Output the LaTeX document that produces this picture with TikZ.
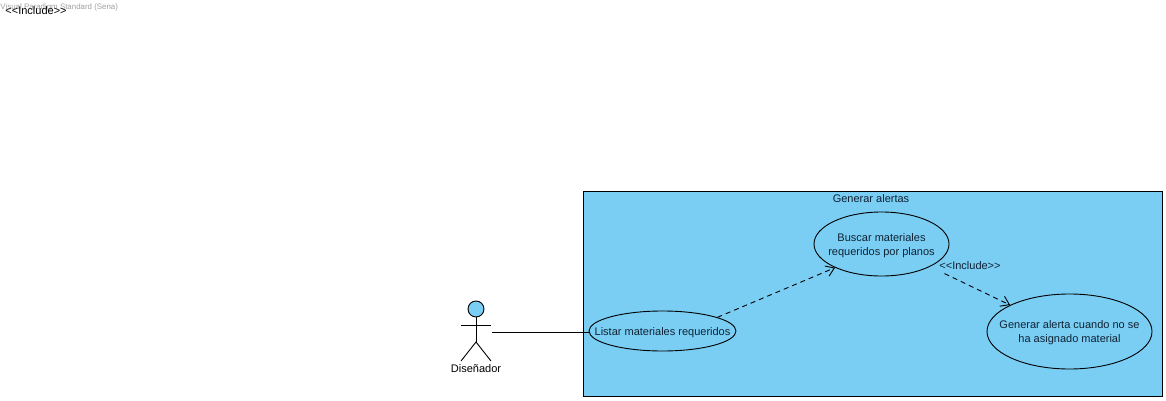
\documentclass[tikz,border=0pt]{standalone}
\usepackage{fontspec}
\setmainfont{Liberation Sans}
\usepackage{xcolor}
\usetikzlibrary{shapes.geometric,arrows.meta}
\definecolor{ucfill}{HTML}{7ACEF4}
\definecolor{uctext}{HTML}{0F2233}
\newcommand{\uclabel}[1]{\makebox[0pt]{\raisebox{-4pt}[0pt][0pt]{#1}}}
\tikzset{
  usecase/.style={draw, ellipse, inner sep=0pt, text=uctext, font=\fontsize{11}{14}\selectfont},
  inctext/.style={text=uctext, inner sep=0pt, font=\fontsize{11}{13}\selectfont},
  includeline/.style={draw, dashed, dash pattern=on 5pt off 4pt, -{Straight Barb[length=8pt,width=11pt]}},
}

\begin{document}
\begin{tikzpicture}[x=1pt, y=-1pt, line width=0.9pt]
  \useasboundingbox (0,0) rectangle (1166,401);
  \node[text=gray!75, inner sep=0pt, anchor=west, font=\fontsize{7.9}{10}\selectfont] (watermark) at (0,7) {Visual Paradigm Standard (Sena)};
  \node[inner sep=0pt, anchor=west, font=\fontsize{11}{14}\selectfont] (strayinclude) at (5,10.5) {{<}{<}Include{>}{>}};

  \node[draw, rectangle, fill=ucfill, minimum width=579pt, minimum height=205pt, inner sep=0pt] (alertas) at (872.5,293.5) {};
  \node[inctext] (alertastitle) at (871,199) {Generar alertas};

  \node[usecase, minimum width=147pt, minimum height=40pt] (listar) at (662.5,331) {\uclabel{Listar materiales requeridos}};
  \node[usecase, minimum width=135pt, minimum height=64pt] (buscar) at (881.5,244) {\uclabel{
    \begin{tabular}{c}
    Buscar materiales \\
    requeridos por planos
    \end{tabular}
  }};
  \node[usecase, minimum width=165pt, minimum height=75pt] (generar) at (1069.5,331.5) {\uclabel{
    \begin{tabular}{c}
    Generar alerta cuando no se \\
    ha asignado material
    \end{tabular}
  }};

  \node[inctext] (include) at (970,266) {{<}{<}Include{>}{>}};

  % actor
  \node[draw, circle, fill=ucfill, minimum size=16pt, inner sep=0pt] (head) at (476,309) {};
  \coordinate (hip) at (476,342);
  \coordinate (armleft) at (461,325);
  \coordinate (armright) at (491,325);
  \coordinate (footleft) at (461,361);
  \coordinate (footright) at (491,361);
  \coordinate (hand) at (491.5,332.5);
  \node[inctext, text=black] (actorname) at (476,369) {Diseñador};
  \draw (head) -- (hip);
  \draw (armleft) -- (armright);
  \draw (footleft) -- (hip) -- (footright);

  \draw (hand) -- (listar.west |- hand);
  \draw[includeline] (listar.14) -- (buscar.207);
  \draw[includeline, shorten <=16pt] (buscar.335) -- (generar.156);
\end{tikzpicture}
\end{document}
